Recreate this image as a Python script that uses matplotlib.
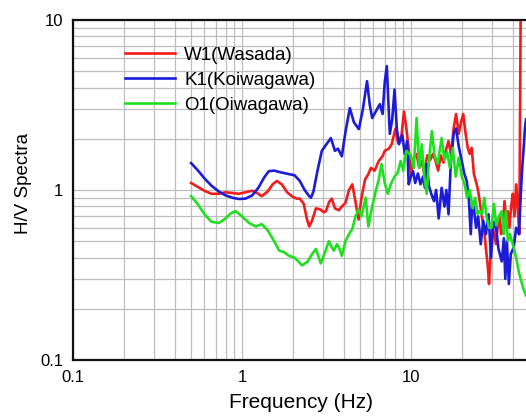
import matplotlib

matplotlib.use("Agg")
import matplotlib.pyplot as plt
from matplotlib.ticker import FuncFormatter, LogLocator, NullFormatter

plt.rcParams["font.family"] = ["Liberation Sans", "DejaVu Sans"]

RED = "#f21c1c"
BLUE = "#1c1cd8"
GREEN = "#1fe01f"
GRID = "#bebebe"

# W1 (Wasada)
w1_freq = [0.5, 0.55, 0.6, 0.66, 0.73, 0.8, 0.88, 0.96, 1.05, 1.15, 1.23, 1.31,
           1.42, 1.52, 1.61, 1.72, 1.85, 1.97, 2.1, 2.2, 2.32, 2.42, 2.5, 2.6,
           2.74, 2.9, 3.05, 3.14, 3.28, 3.4, 3.55, 3.75, 3.9, 4.1, 4.3, 4.5,
           4.7, 4.9, 5.1, 5.35, 5.6, 5.8, 6.1, 6.45, 6.8, 7.0, 7.4, 7.7, 8.1,
           8.4, 8.8, 9.1, 9.4, 9.7, 10.0, 10.4, 10.8, 11.2, 11.6, 12.0, 12.5,
           13.0, 13.5, 14.0, 14.5, 15.0, 15.6, 16.2, 16.7, 17.3, 17.9, 18.5,
           19.2, 19.8, 20.4, 21.0, 21.7, 22.3, 22.9, 23.6, 24.4, 25.0, 25.8,
           26.6, 27.3, 27.8, 28.5, 29.0, 29.7, 30.4, 31.1, 31.9, 32.6, 33.4,
           34.2, 35.0, 35.8, 36.6, 37.4, 38.3, 39.2, 40.1, 41.0, 42.0, 43.0,
           43.8, 44.3, 44.6, 45.0, 46.0, 47.0, 48.0]
w1_hv = [1.1, 1.04, 0.99, 0.95, 0.95, 0.97, 0.96, 0.95, 0.97, 0.99, 0.96, 0.92,
         0.98, 1.08, 1.13, 1.08, 0.97, 0.92, 0.89, 0.89, 0.83, 0.68, 0.61, 0.66,
         0.78, 0.77, 0.74, 0.75, 0.85, 0.89, 0.78, 0.76, 0.8, 0.84, 1.0, 1.08,
         0.85, 0.67, 0.9, 1.15, 1.24, 1.35, 1.3, 1.48, 1.58, 1.7, 1.75, 1.86,
         2.3, 1.89, 2.1, 2.9, 2.3, 1.77, 1.24, 1.55, 1.63, 1.35, 1.48, 1.25,
         1.6, 1.5, 1.63, 1.48, 1.3, 1.6, 1.45, 1.75, 1.94, 1.6, 2.3, 2.8, 2.14,
         2.5, 2.8, 2.2, 1.77, 1.63, 1.77, 1.24, 1.1, 0.99, 0.8, 0.65, 0.55,
         0.45, 0.36, 0.28, 0.44, 0.6, 0.55, 0.48, 0.6, 0.7, 0.55, 0.6, 0.86,
         0.68, 0.75, 0.6, 0.8, 0.95, 0.7, 1.08, 0.75, 0.55, 3.0, 10.5, 14.0,
         14.0, 14.0, 14.0]

# K1 (Koiwagawa)
k1_freq = [0.5, 0.55, 0.6, 0.66, 0.73, 0.8, 0.88, 0.96, 1.05, 1.15, 1.25, 1.35,
           1.44, 1.55, 1.7, 1.9, 2.05, 2.2, 2.35, 2.5, 2.56, 2.65, 2.8, 2.97,
           3.15, 3.36, 3.55, 3.7, 3.9, 4.1, 4.35, 4.6, 4.92, 5.2, 5.5, 5.7, 5.9,
           6.2, 6.55, 6.8, 7.0, 7.2, 7.5, 7.75, 8.0, 8.25, 8.5, 8.9, 9.2, 9.5,
           9.7, 10.0, 10.3, 10.6, 11.0, 11.4, 11.8, 12.1, 12.4, 12.8, 13.2, 13.7,
           14.1, 14.6, 15.2, 15.8, 16.2, 16.7, 17.2, 17.9, 18.5, 19.2, 20.0,
           20.7, 21.4, 22.0, 22.6, 23.1, 23.6, 24.3, 25.0, 25.9, 26.8, 27.8,
           28.8, 29.8, 30.8, 31.9, 33.0, 34.5, 35.5, 36.2, 37.0, 38.0, 39.0,
           40.6, 42.0, 43.6, 44.8, 45.7, 46.5, 47.3, 48.0]
k1_hv = [1.44, 1.3, 1.17, 1.06, 0.98, 0.93, 0.9, 0.885, 0.89, 0.93, 1.03, 1.18,
         1.29, 1.3, 1.27, 1.24, 1.22, 1.13, 1.0, 0.92, 0.9, 0.98, 1.3, 1.7,
         1.85, 2.02, 1.7, 1.75, 1.58, 2.2, 3.03, 2.5, 2.28, 3.0, 4.37, 3.2,
         2.65, 2.9, 3.2, 2.8, 4.3, 5.35, 2.14, 2.6, 3.9, 2.3, 1.86, 2.1, 1.63,
         1.94, 1.08, 1.2, 1.29, 1.1, 1.25, 1.08, 1.2, 1.03, 1.42, 1.05, 0.95,
         0.86, 1.0, 0.68, 1.03, 0.8, 1.0, 0.72, 1.4, 2.14, 2.3, 1.8, 1.48, 1.25,
         1.13, 0.9, 0.55, 0.85, 0.78, 0.6, 0.7, 0.48, 0.66, 0.55, 0.72, 0.4,
         0.65, 0.6, 0.45, 0.38, 0.52, 0.3, 0.5, 0.28, 0.42, 0.46, 0.6, 0.55,
         0.99, 1.4, 1.77, 2.3, 2.6]

# O1 (Oiwagawa)
o1_freq = [0.5, 0.55, 0.6, 0.66, 0.73, 0.8, 0.86, 0.92, 1.0, 1.1, 1.21, 1.31,
           1.42, 1.55, 1.66, 1.78, 1.9, 2.05, 2.27, 2.45, 2.6, 2.74, 2.85, 2.93,
           3.1, 3.27, 3.4, 3.5, 3.65, 3.75, 3.9, 4.1, 4.3, 4.5, 4.7, 4.9, 5.1,
           5.4, 5.6, 5.9, 6.2, 6.45, 6.7, 7.0, 7.3, 7.6, 8.0, 8.35, 8.7, 9.0,
           9.4, 9.98, 10.4, 10.8, 11.2, 11.6, 12.0, 12.4, 12.8, 13.3, 13.8,
           14.4, 15.2, 15.8, 16.4, 17.0, 17.7, 18.4, 19.2, 20.0, 20.8, 21.5,
           22.3, 23.2, 24.0, 24.8, 25.5, 26.3, 27.2, 28.0, 29.0, 30.0, 31.0,
           32.0, 33.2, 34.5, 35.5, 36.5, 37.5, 38.5, 39.6, 40.8, 42.0, 43.5,
           45.0, 46.5, 48.0]
o1_hv = [0.92, 0.82, 0.72, 0.65, 0.64, 0.68, 0.73, 0.75, 0.7, 0.64, 0.61, 0.63,
         0.58, 0.5, 0.44, 0.43, 0.41, 0.4, 0.36, 0.38, 0.42, 0.45, 0.4, 0.37,
         0.43, 0.5, 0.46, 0.44, 0.48, 0.46, 0.41, 0.5, 0.55, 0.59, 0.7, 0.77,
         0.7, 0.9, 0.61, 0.8, 0.99, 1.15, 1.42, 1.1, 0.95, 1.08, 1.2, 1.26,
         1.48, 1.3, 1.7, 1.6, 1.35, 2.65, 1.35, 1.86, 1.2, 0.95, 1.5, 2.22, 1.6,
         1.43, 2.02, 1.5, 1.67, 1.35, 1.77, 1.2, 1.55, 1.2, 1.08, 0.9, 1.0,
         0.78, 0.9, 0.72, 0.75, 0.72, 0.9, 0.7, 0.6, 0.6, 0.83, 0.62, 0.7,
         0.75, 0.55, 0.75, 0.5, 0.55, 0.5, 0.45, 0.4, 0.33, 0.29, 0.26, 0.24]

series = [
    ("W1(Wasada)", w1_freq, w1_hv, RED),
    ("K1(Koiwagawa)", k1_freq, k1_hv, BLUE),
    ("O1(Oiwagawa)", o1_freq, o1_hv, GREEN),
]

fig = plt.figure(figsize=(5.26, 4.17), dpi=100)
# right edge of the axes sits just past the figure edge, like the cropped original
ax = fig.add_axes([73 / 526, 57 / 417, 456 / 526, 340 / 417])

for label, freq, hv, color in series:
    ax.plot(freq, hv, color=color, lw=1.9, label=label)

ax.set_xscale("log")
ax.set_yscale("log")
ax.set_xlim(0.1, 50)
ax.set_ylim(0.1, 10)

ax.xaxis.set_major_locator(LogLocator(base=10))
ax.yaxis.set_major_locator(LogLocator(base=10))
ax.xaxis.set_minor_locator(LogLocator(base=10, subs=range(2, 10)))
ax.yaxis.set_minor_locator(LogLocator(base=10, subs=range(2, 10)))
ax.xaxis.set_major_formatter(FuncFormatter(lambda v, p: f"{v:g}"))
ax.yaxis.set_major_formatter(FuncFormatter(lambda v, p: f"{v:g}"))
ax.xaxis.set_minor_formatter(NullFormatter())
ax.yaxis.set_minor_formatter(NullFormatter())

ax.grid(True, which="both", color=GRID, lw=0.9)
ax.set_axisbelow(True)
ax.tick_params(which="both", direction="in", length=0, labelsize=12, pad=7)

for side in ["left", "bottom", "top"]:
    ax.spines[side].set_linewidth(1.6)
    ax.spines[side].set_color("#111111")
ax.spines["right"].set_visible(False)

ax.set_xlabel("Frequency (Hz)", fontsize=15, labelpad=6)
ax.set_ylabel("H/V Spectra", fontsize=13.5)
ax.yaxis.set_label_coords(-0.089, 0.52)

ax.legend(
    loc="upper left",
    bbox_to_anchor=(0.114, 0.922),
    frameon=False,
    fontsize=13.5,
    handlelength=2.65,
    handletextpad=0.5,
    labelspacing=0.42,
    borderpad=0,
    borderaxespad=0,
)

fig.savefig("out.png", dpi=100)
